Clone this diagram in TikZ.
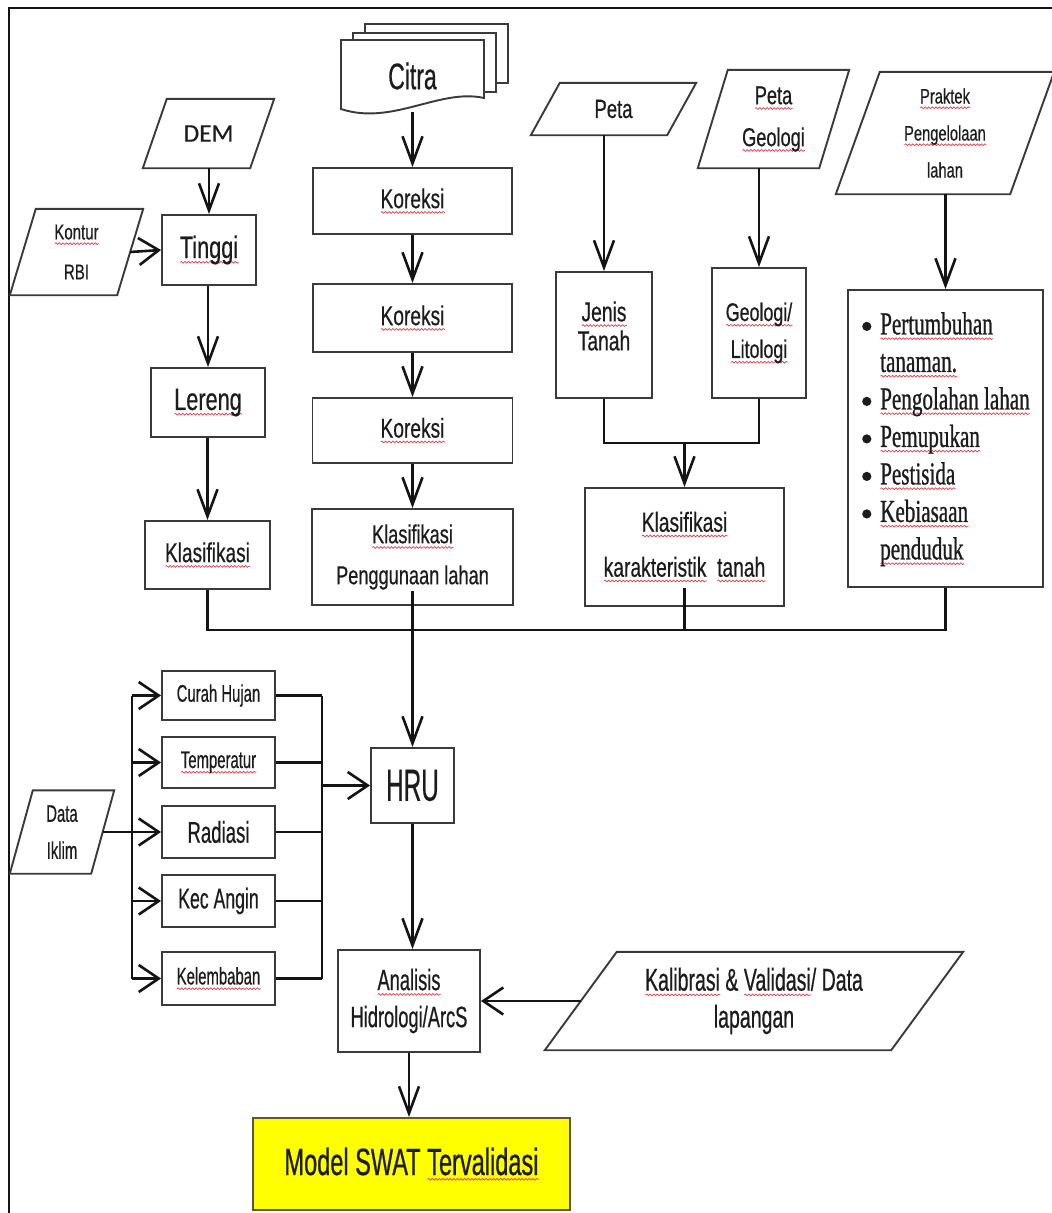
\documentclass[tikz,border=0pt]{standalone}
\usepackage{fontspec}
\usetikzlibrary{arrows.meta,decorations.pathmorphing}
\setmainfont{Liberation Sans}
% condensed sans faces for the box labels
\newfontfamily\fA[FakeStretch=0.70,FakeBold=0.5]{Liberation Sans}
\newfontfamily\fN[FakeStretch=0.62,FakeBold=0.5]{Liberation Sans}
\newfontfamily\fH[FakeStretch=0.54,FakeBold=0.4]{Liberation Sans}
\newfontfamily\fC[FakeBold=0.4]{Carlito}
\newfontfamily\fT[FakeStretch=0.66,FakeBold=0.8]{Liberation Serif}

\definecolor{boxc}{HTML}{3A3A3A}
\definecolor{lnc}{HTML}{141414}
\definecolor{txt}{HTML}{1C1C1C}
\definecolor{sqred}{HTML}{E0404A}
\definecolor{swat}{HTML}{FFFF00}
\definecolor{swatedge}{HTML}{5E5A28}

\newcommand\setfs[2]{\fontsize{#1}{#2}\selectfont}
% red wavy underline for flagged words
\newsavebox\sqbox
\newcommand\sq[1]{\sbox\sqbox{#1}\makebox[0pt][l]{\raisebox{-5.5pt}{\tikz[x=1pt,y=1pt]\draw[sqred, line width=0.7pt, decorate, decoration={snake, amplitude=0.9pt, segment length=3.6pt}] (0,0) -- (\wd\sqbox,0);}}\usebox\sqbox}
% list bullet: round dot at x-height
\newcommand\bl{\makebox[20pt][l]{\hspace{2pt}\tikz[x=1pt,y=1pt,baseline=-8pt]\fill[txt] (5,0) circle (4.6pt);}}
\newcommand\ind{\makebox[20pt]{}}
% parallelogram around a node: #1 node name, #2 slant
\newcommand\drawpara[2]{\draw[boxline] ([xshift=#2]#1.north west) -- (#1.north east) -- ([xshift=-#2]#1.south east) -- (#1.south west) -- cycle;}

\tikzset{
  boxline/.style={draw=boxc, line width=1.9pt, line join=miter},
  box/.style={boxline, fill=white, rectangle, inner sep=0pt, align=center, text=txt},
  lbl/.style={inner sep=0pt, align=center, text=txt},
  conn/.style={draw=lnc, line width=2.6pt},
  varr/.style={conn, -{Straight Barb[length=27pt,width=20pt]}},
  harr/.style={conn, -{Straight Barb[length=20pt,width=27pt]}},
}

\begin{document}
\begin{tikzpicture}[x=1pt,y=-1pt]
\fill[white] (0,0) rectangle (1052,1213);
\useasboundingbox (0,0) rectangle (1052,1213);

% frame
\draw[draw=lnc, line width=2.4pt] (9,1213) -- (9,8) -- (1052,8);

% ---- image stack (multi-document) ----
\filldraw[boxline, fill=white] (365,24) rectangle (508,83);
\filldraw[boxline, fill=white] (353,33) rectangle (496,92);
\filldraw[boxline, fill=white] (341,109) -- (341,40) -- (484,40) -- (484,98)
   .. controls (440,88) and (392,126) .. (341,109) -- cycle;
\node[lbl, font=\fN\setfs{37}{40}] (citra) at (412.5,76) {Citra};
\coordinate (citraout) at (412.5,112);

% ---- central column ----
\node[box, minimum width=199, minimum height=66, font=\fA\setfs{27.4}{30}] (kor1) at (412.5,201) {\sq{Koreksi}};
\node[box, minimum width=199, minimum height=68, font=\fA\setfs{27.4}{30}] (kor2) at (412.5,318) {\sq{Koreksi}};
\node[box, minimum width=200, minimum height=65, font=\fA\setfs{27.4}{30}] (kor3) at (412.5,430.5) {\sq{Koreksi}};
\node[box, minimum width=201, minimum height=96, font=\fA\setfs{26}{41}] (klaspeng) at (412.5,557) {\sq{Klasifikasi}\\Penggunaan lahan};

% ---- elevation column ----
\node[lbl, minimum width=131, minimum height=69, font=\fC\setfs{25.5}{30}] (dem) at (208.5,133.5) {DEM};
\drawpara{dem}{24}
\node[box, minimum width=94, minimum height=70, font=\fA\setfs{31}{32}] (tinggi) at (209,250) {\sq{Tinggi}};
\node[lbl, minimum width=133, minimum height=86, font=\fA\setfs{21.5}{40}] (kontur) at (76.5,252) {\sq{Kontur}\\RBI};
\drawpara{kontur}{26}
\node[box, minimum width=114, minimum height=69, font=\fA\setfs{31}{32}] (lereng) at (208,402.5) {\sq{Lereng}};
\node[box, minimum width=125, minimum height=68, font=\fA\setfs{27.3}{30}] (klas1) at (207.5,555) {\sq{Klasifikasi}};

% ---- soil / geology column ----
\node[lbl, minimum width=165, minimum height=52, font=\fA\setfs{26.4}{30}] (peta) at (613.5,109) {Peta};
\drawpara{peta}{29}
\node[lbl, minimum width=151, minimum height=98, font=\fA\setfs{26}{42}] (pgeo) at (773.5,119) {\sq{Peta}\\\sq{Geologi}};
\drawpara{pgeo}{30}
\node[box, minimum width=96, minimum height=126] (jenis) at (604,335) {};
\node[lbl, font=\fA\setfs{27.5}{29}] (jenistxt) at (604,326) {\sq{Jenis}\\Tanah};
\node[box, minimum width=94, minimum height=130, font=\fA\setfs{25.5}{37}] (geo) at (759,333) {\sq{Geologi/}\\\sq{Litologi}};
\node[box, minimum width=199, minimum height=118, font=\fA\setfs{27.5}{45}] (klaskar) at (684.5,547) {\sq{Klasifikasi}\\\sq{karakteristik}\ \ \sq{tanah}};
\coordinate (merge) at (684.5,443);

% ---- land management column ----
\node[lbl, minimum width=218, minimum height=122, font=\fA\setfs{21}{37}] (prak) at (945,133) {\sq{Praktek}\\\sq{Pengelolaan}\\lahan};
\drawpara{prak}{44}
\node[box, minimum width=195, minimum height=297] (prac) at (945.5,438.5) {};
\node[anchor=north west, align=left, inner sep=0pt, text=txt, font=\fT\setfs{32}{37.5}] (praclist) at (860,312) {%
\bl\sq{Pertumbuhan}\\
\ind\sq{tanaman.}\\
\bl\sq{Pengolahan lahan}\\
\bl\sq{Pemupukan}\\
\bl\sq{Pestisida}\\
\bl\sq{Kebiasaan}\\
\ind\sq{penduduk}};

% ---- HRU and climate data ----
\node[box, minimum width=83, minimum height=75, font=\fH\setfs{45}{50}] (hru) at (412.5,785.5) {HRU};
\node[box, minimum width=113, minimum height=49, font=\fN\setfs{24}{30}] (curah) at (218.5,695.5) {Curah Hujan};
\node[box, minimum width=113, minimum height=51, font=\fN\setfs{24}{30}] (temp) at (218.5,762.5) {\sq{Temperatur}};
\node[box, minimum width=113, minimum height=52, font=\fN\setfs{30}{32}] (rad) at (218.5,832) {Radiasi};
\node[box, minimum width=113, minimum height=52, font=\fN\setfs{28.5}{32}] (kec) at (218.5,901) {Kec Angin};
\node[box, minimum width=113, minimum height=53, font=\fN\setfs{24}{30}] (kel) at (218.5,978.5) {\sq{Kelembaban}};
\node[lbl, minimum width=104, minimum height=83, font=\fN\setfs{24}{37}] (iklim) at (62,832) {Data\\Iklim};
\drawpara{iklim}{23}
\coordinate (lbus) at (132,0);
\coordinate (rbus) at (322,0);

% ---- analysis and result ----
\node[box, minimum width=142, minimum height=102, font=\fN\setfs{29.5}{37}] (ana) at (409,1001) {\sq{Analisis}\\Hidrologi/ArcS};
\node[lbl, minimum width=418, minimum height=98, font=\fN\setfs{31.5}{37}] (kal) at (754,1001) {\sq{Kalibrasi} \& \sq{Validasi}/ Data\\lapangan};
\drawpara{kal}{72}
\node[box, fill=swat, draw=swatedge, minimum width=317, minimum height=92, font=\fN\setfs{38}{40}] (model) at (411.5,1164) {Model SWAT \sq{Tervalidasi}};

% ---- connectors ----
\draw[varr] (citraout) -- (kor1.north);
\draw[varr] (kor1.south) -- (kor2.north);
\draw[varr] (kor2.south) -- (kor3.north);
\draw[varr] (kor3.south) -- (klaspeng.north);

\draw[varr] (tinggi.north |- dem.south) -- (tinggi.north);
\draw[harr] ([xshift=-13]kontur.east) -- (tinggi.west);
\draw[varr] (lereng.north |- tinggi.south) -- (lereng.north);
\draw[varr] (lereng.south -| klas1.north) -- (klas1.north);

\draw[varr] (peta.south -| jenis.north) -- (jenis.north);
\draw[varr] (pgeo.south -| geo.north) -- (geo.north);
\draw[conn] (jenis.south) -- (jenis.south |- merge) -- (geo.south |- merge) -- (geo.south);
\draw[varr] (merge) -- (klaskar.north);
\draw[varr] (prak.south -| prac.north) -- (prac.north);

% collecting line into HRU
\coordinate (busR) at (945.5,630);
\draw[conn] (klas1.south) |- (busR) -- (prac.south);
\draw[conn] ([yshift=19]klaskar.south) -- (klaskar.south |- busR);
\draw[varr] ([yshift=15]klaspeng.south) -- (hru.north);

% climate branches
\draw[conn] ([xshift=-11.5]iklim.east) -- (iklim.east -| lbus);
\draw[conn] (curah.west -| lbus) -- (kel.west -| lbus);
\foreach \n in {curah,temp,rad,kec,kel}{
  \draw[harr] (\n.west -| lbus) -- (\n.west);
  \draw[conn] (\n.east) -- (\n.east -| rbus);
}
\draw[conn] (curah.east -| rbus) -- (kel.east -| rbus);
\draw[harr] (hru.west -| rbus) -- (hru.west);

\draw[varr] (hru.south) -- (hru.south |- ana.north);
\draw[harr] ([xshift=36]kal.west) -- (ana.east);
\draw[varr] (ana.south) -- (ana.south |- model.north);
\end{tikzpicture}
\end{document}
